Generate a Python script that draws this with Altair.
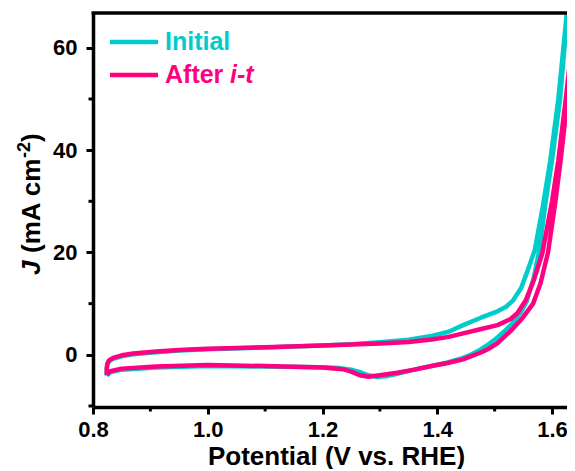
import altair as alt
import pandas as pd

# ---- data (Potential V vs RHE, J mA cm^-2) ----
init_fwd_v = [0.824, 0.824, 0.825, 0.828, 0.835, 0.85, 0.87, 0.91, 0.95, 1.0, 1.1, 1.2, 1.25, 1.3, 1.35, 1.39,
              1.42, 1.445, 1.475, 1.505, 1.52, 1.532, 1.546, 1.558, 1.570, 1.584, 1.597, 1.611, 1.626]
init_fwd_j = [-4.1, -2.8, -1.9, -1.3, -0.8, -0.3, 0.1, 0.5, 0.85, 1.1, 1.45, 1.8, 2.05, 2.45, 2.95, 3.7,
              4.5, 5.8, 7.2, 8.5, 9.4, 10.6, 13.0, 16.6, 20.5, 29.0, 38.0, 50.0, 67.0]
init_rev_v = [1.627, 1.614, 1.600, 1.589, 1.578, 1.568, 1.556, 1.545, 1.530, 1.515, 1.505, 1.49, 1.475, 1.46,
              1.445, 1.418, 1.39, 1.36, 1.33, 1.31, 1.295, 1.28, 1.265, 1.25, 1.23, 1.2, 1.1, 1.0, 0.91, 0.85,
              0.83, 0.824]
init_rev_j = [67.0, 50.0, 38.0, 30.0, 20.5, 15.0, 10.5, 8.2, 6.0, 4.4, 3.4, 2.1, 1.0, 0.1,
              -0.6, -1.5, -2.2, -2.9, -3.7, -4.2, -4.3, -4.0, -3.4, -2.9, -2.6, -2.45, -2.3, -2.2, -2.5, -2.9,
              -3.4, -4.1]

after_fwd_v = [0.824, 0.824, 0.825, 0.828, 0.835, 0.85, 0.87, 0.91, 0.95, 1.0, 1.1, 1.2, 1.3, 1.35, 1.39,
               1.42, 1.445, 1.475, 1.505, 1.528, 1.540, 1.554, 1.568, 1.583, 1.600, 1.611, 1.624, 1.640]
after_fwd_j = [-3.9, -2.6, -1.7, -1.1, -0.6, -0.1, 0.25, 0.65, 0.95, 1.2, 1.5, 1.8, 2.2, 2.5, 3.0,
               3.5, 4.2, 5.0, 5.8, 7.0, 8.2, 10.6, 14.5, 19.8, 30.0, 38.0, 50.0, 66.0]
after_rev_v = [1.642, 1.627, 1.615, 1.606, 1.593, 1.580, 1.567, 1.550, 1.530, 1.505, 1.49, 1.475, 1.445,
               1.418, 1.39, 1.36, 1.33, 1.30, 1.28, 1.265, 1.25, 1.235, 1.2, 1.1, 1.0, 0.91, 0.85, 0.83, 0.824]
after_rev_j = [66.0, 50.0, 38.0, 30.0, 20.0, 14.0, 10.0, 7.4, 4.9, 2.3, 1.2, 0.4, -0.9,
               -1.6, -2.2, -2.9, -3.5, -4.0, -4.3, -4.0, -3.3, -2.8, -2.5, -2.2, -2.0, -2.3, -2.7, -3.2, -3.9]

x_major = [0.8, 1.0, 1.2, 1.4, 1.6]
x_minor = [0.9, 1.1, 1.3, 1.5]
y_major = [0, 20, 40, 60]
y_minor = [-10, 10, 30, 50]

CYAN = "#00CCCC"
PINK = "#FF0080"
FONT = "Liberation Sans"
W, H = 474, 394


def loop(vs_f, js_f, vs_r, js_r):
    v = list(vs_f) + list(vs_r)
    j = list(js_f) + list(js_r)
    return pd.DataFrame({"V": v, "J": j, "idx": list(range(len(v)))})


df_init = loop(init_fwd_v, init_fwd_j, init_rev_v, init_rev_j)
df_after = loop(after_fwd_v, after_fwd_j, after_rev_v, after_rev_j)

xs = alt.Scale(domain=[0.8, 1.6261], nice=False, zero=False)
ys = alt.Scale(domain=[-10.2, 66.8], nice=False, zero=False)

xaxis = alt.Axis(values=x_major, format=".1f", title="Potential (V vs. RHE)", grid=False,
                 labelFlush=False, labelOverlap=False,
                 domainColor="black", domainWidth=3.5, tickColor="black", tickWidth=3, tickSize=7,
                 labelFont=FONT, labelFontSize=22, labelFontWeight="bold", labelColor="black",
                 labelPadding=5, titleFont=FONT, titleFontSize=26, titleFontWeight="bold",
                 titleColor="black", titlePadding=3, titleAnchor="middle", titleX=(575 - 93) / 2 + 2)
yaxis = alt.Axis(values=y_major, title=None, grid=False, labelFlush=False,
                 domainColor="black", domainWidth=3.5, tickColor="black", tickWidth=3, tickSize=7,
                 labelFont=FONT, labelFontSize=22, labelFontWeight="bold", labelColor="black",
                 labelPadding=9)

line_init = alt.Chart(df_init).mark_line(color=CYAN, strokeWidth=4.5, clip=True,
                                         strokeJoin="round").encode(
    x=alt.X("V:Q", scale=xs, axis=xaxis),
    y=alt.Y("J:Q", scale=ys, axis=yaxis),
    order="idx:Q",
)
line_after = alt.Chart(df_after).mark_line(color=PINK, strokeWidth=4.5, clip=True,
                                           strokeJoin="round").encode(
    x=alt.X("V:Q", scale=xs),
    y=alt.Y("J:Q", scale=ys),
    order="idx:Q",
)

xminor = alt.Chart(pd.DataFrame({"v": x_minor})).mark_rule(color="black", strokeWidth=3).encode(
    x=alt.X("v:Q", scale=xs), y=alt.value(H), y2=alt.value(H + 4.5))
yminor = alt.Chart(pd.DataFrame({"j": y_minor})).mark_rule(color="black", strokeWidth=3).encode(
    y=alt.Y("j:Q", scale=ys), x=alt.value(0), x2=alt.value(-4.5))

top_border = alt.Chart(pd.DataFrame({"a": [0]})).mark_rule(color="black", strokeWidth=3.5).encode(
    x=alt.value(-1.5), x2=alt.value(W), y=alt.value(0))


def txt(s, x, y, size, color="black", style="normal", angle=0):
    return alt.Chart(pd.DataFrame({"t": [s]})).mark_text(
        font=FONT, fontSize=size, fontWeight="bold", fontStyle=style, color=color,
        align="left", baseline="alphabetic", angle=angle).encode(
        x=alt.value(x), y=alt.value(y), text="t:N")


def legend_line(color, y):
    return alt.Chart(pd.DataFrame({"a": [0]})).mark_rule(color=color, strokeWidth=4.5).encode(
        x=alt.value(17), x2=alt.value(65), y=alt.value(y))


legend = [
    legend_line(CYAN, 29), txt("Initial", 72, 37, 25, CYAN),
    legend_line(PINK, 62), txt("After", 72, 70, 25, PINK), txt("i-t", 137, 70, 25, PINK, "italic"),
]

ytitle = [
    txt("J", -53, 262, 26, style="italic", angle=270),
    txt("(mA cm", -53, 240, 26, angle=270),
    txt("-2", -63, 145, 18, angle=270),
    txt(")", -53, 129, 26, angle=270),
]

chart = alt.layer(line_init, line_after, xminor, yminor, top_border, *legend, *ytitle).properties(
    width=W, height=H,
    autosize=alt.AutoSizeParams(type="none"),
    padding={"left": 85, "top": 5, "right": 0, "bottom": 62},
    background="white",
).configure_view(stroke=None)

chart.save("out.html", embed_options={"renderer": "svg", "actions": False})
